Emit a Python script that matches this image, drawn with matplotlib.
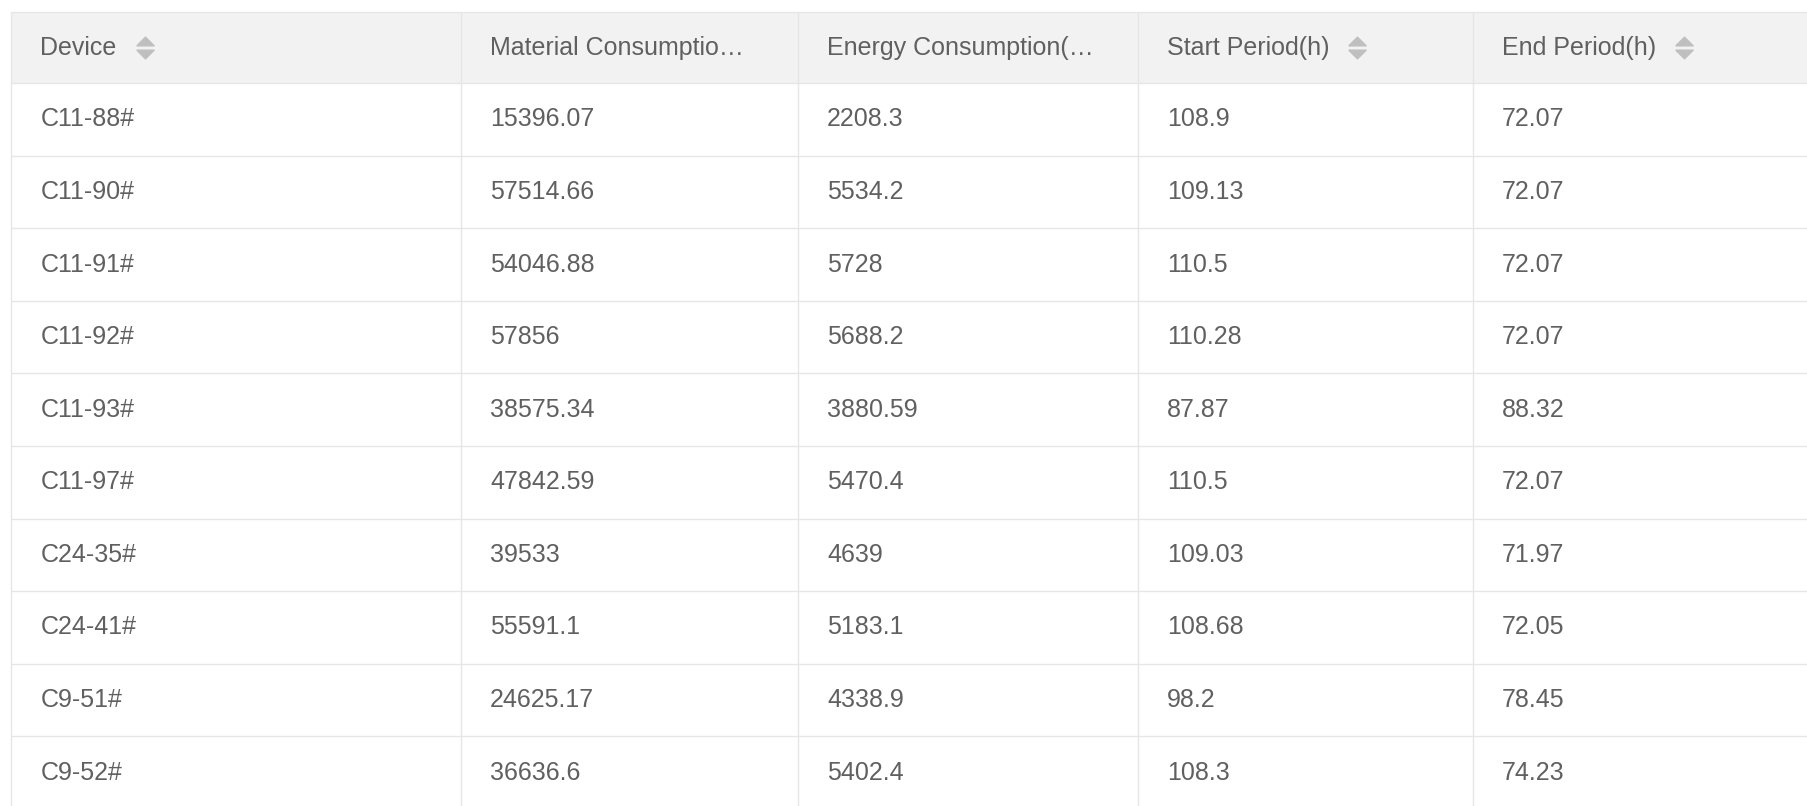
import matplotlib
matplotlib.use("Agg")
import matplotlib.pyplot as plt
from matplotlib.patches import Rectangle

# table content
headers = ["Device", "Material Consumptio\u2026", "Energy Consumption(\u2026",
           "Start Period(h)", "End Period(h)"]
sortable = [True, False, False, True, True]
devices = ["C11-88#", "C11-90#", "C11-91#", "C11-92#", "C11-93#",
           "C11-97#", "C24-35#", "C24-41#", "C9-51#", "C9-52#"]
material = ["15396.07", "57514.66", "54046.88", "57856", "38575.34",
            "47842.59", "39533", "55591.1", "24625.17", "36636.6"]
energy = ["2208.3", "5534.2", "5728", "5688.2", "3880.59",
          "5470.4", "4639", "5183.1", "4338.9", "5402.4"]
start_period = ["108.9", "109.13", "110.5", "110.28", "87.87",
                "110.5", "109.03", "108.68", "98.2", "108.3"]
end_period = ["72.07", "72.07", "72.07", "72.07", "88.32",
              "72.07", "71.97", "72.05", "78.45", "74.23"]

W, H = 1808, 806
col_edges = [11.5, 461, 798, 1138, 1473, W + 5]
top = 11.5
head_h = 71.5
row_h = 72.6
pad = 29

TEXT = "#606060"
LINE = "#e6e6e6"
HEAD_BG = "#f2f2f2"
ICON = "#bfbfbf"

plt.rcParams["font.family"] = ["Liberation Sans", "DejaVu Sans"]

fig = plt.figure(figsize=(W / 100, H / 100), dpi=100)
ax = fig.add_axes([0, 0, 1, 1])
ax.set_xlim(0, W)
ax.set_ylim(H, 0)
ax.axis("off")

fs = 18

up_tri = [(-1, -0.5), (1, -0.5), (0, 0.5), (-1, -0.5)]
down_tri = [(-1, 0.5), (1, 0.5), (0, -0.5), (-1, 0.5)]

# header
ax.add_patch(Rectangle((col_edges[0], top), col_edges[-1] - col_edges[0], head_h,
                       facecolor=HEAD_BG, edgecolor="none", zorder=0))
yh = top + head_h / 2 + 0.5
fig.canvas.draw()
renderer = fig.canvas.get_renderer()
for i, (h, s) in enumerate(zip(headers, sortable)):
    t = ax.text(col_edges[i] + pad, yh, h, fontsize=fs, color=TEXT,
                va="center", ha="left")
    if s:
        bb = t.get_window_extent(renderer=renderer)
        x_icon = bb.x1 + 28
        ax.plot([x_icon], [yh - 6.5], marker=up_tri, markersize=12.5,
                color=ICON, lw=0)
        ax.plot([x_icon], [yh + 6.5], marker=down_tri, markersize=12.5,
                color=ICON, lw=0)

# body
columns = [devices, material, energy, start_period, end_period]
y0 = top + head_h
for r in range(len(devices)):
    yc = y0 + r * row_h + row_h / 2
    for c, col in enumerate(columns):
        ax.text(col_edges[c] + pad, yc, col[r], fontsize=fs, color=TEXT,
                va="center", ha="left")

# grid lines
n_lines = len(devices) + 1
ax.hlines([top], col_edges[0], W, color=LINE, lw=1)
ax.hlines([y0 + k * row_h for k in range(n_lines)], col_edges[0], W, color=LINE, lw=1)
ax.vlines(col_edges[:-1], top, H, color=LINE, lw=1)

fig.savefig("out.png", dpi=100, facecolor="white")
